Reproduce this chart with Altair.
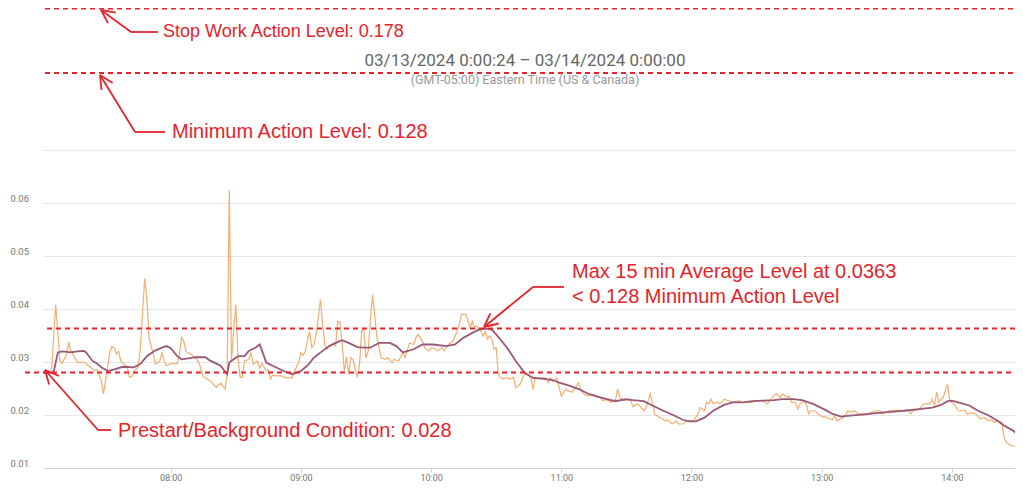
import math
import altair as alt
import pandas as pd

DAY = "2024-03-13"

# ---- raw readings (orange) ----
raw_time = [
    "07:01", "07:05", "07:07", "07:09", "07:10", "07:12", "07:13", "07:14", "07:17", "07:20",
    "07:23", "07:25", "07:26", "07:28", "07:29", "07:30", "07:32", "07:33", "07:34", "07:35",
    "07:36", "07:37", "07:38", "07:40", "07:41", "07:42", "07:44", "07:45", "07:46", "07:47",
    "07:48", "07:49", "07:50", "07:52", "07:53", "07:55", "07:56", "07:57", "07:58", "08:00",
    "08:03", "08:04", "08:05", "08:06", "08:07", "08:09", "08:10", "08:11", "08:13", "08:15",
    "08:18", "08:21", "08:23", "08:25", "08:26", "08:27", "08:28", "08:29", "08:30", "08:31",
    "08:32", "08:33", "08:34", "08:36", "08:37", "08:38", "08:40", "08:41", "08:42", "08:44",
    "08:45", "08:46", "08:47", "08:49", "08:51", "08:53", "08:56", "08:57", "08:59", "09:00",
    "09:01", "09:02", "09:03", "09:04", "09:05", "09:06", "09:07", "09:08", "09:09", "09:10",
    "09:11", "09:12", "09:13", "09:15", "09:16", "09:17", "09:18", "09:19", "09:20", "09:21",
    "09:22", "09:23", "09:24", "09:26", "09:27", "09:28", "09:29", "09:30", "09:31", "09:32",
    "09:33", "09:34", "09:35", "09:36", "09:37", "09:39", "09:40", "09:42", "09:43", "09:45",
    "09:47", "09:48", "09:49", "09:50", "09:52", "09:53", "09:54", "09:55", "09:56", "09:57",
    "09:59", "10:00", "10:02", "10:03", "10:05", "10:06", "10:08", "10:10", "10:12", "10:13",
    "10:14", "10:16", "10:18", "10:19", "10:20", "10:21", "10:23", "10:24", "10:25", "10:26",
    "10:27", "10:28", "10:29", "10:30", "10:31", "10:32", "10:33", "10:35", "10:36", "10:38",
    "10:39", "10:41", "10:43", "10:45", "10:46", "10:47", "10:48", "10:50", "10:53", "10:54",
    "10:55", "10:56", "10:58", "10:59", "11:00", "11:02", "11:03", "11:05", "11:07", "11:08",
    "11:09", "11:11", "11:13", "11:15", "11:18", "11:19", "11:21", "11:23", "11:25", "11:26",
    "11:27", "11:29", "11:30", "11:32", "11:33", "11:35", "11:36", "11:38", "11:39", "11:41",
    "11:42", "11:43", "11:45", "11:46", "11:48", "11:49", "11:51", "11:53", "11:54", "11:56",
    "11:58", "11:59", "12:01", "12:03", "12:04", "12:06", "12:07", "12:08", "12:09", "12:10",
    "12:12", "12:13", "12:15", "12:17", "12:19", "12:22", "12:23", "12:25", "12:28", "12:29",
    "12:32", "12:34", "12:35", "12:36", "12:38", "12:39", "12:41", "12:42", "12:44", "12:45",
    "12:46", "12:48", "12:49", "12:50", "12:52", "12:53", "12:54", "12:55", "12:57", "12:59",
    "13:01", "13:02", "13:05", "13:06", "13:07", "13:09", "13:11", "13:12", "13:14", "13:15",
    "13:17", "13:18", "13:21", "13:23", "13:25", "13:27", "13:28", "13:31", "13:34", "13:37",
    "13:40", "13:41", "13:42", "13:45", "13:47", "13:50", "13:51", "13:52", "13:53", "13:54",
    "13:55", "13:56", "13:57", "13:58", "13:59", "14:00", "14:01", "14:03", "14:05", "14:06",
    "14:07", "14:09", "14:11", "14:13", "14:15", "14:17", "14:18", "14:20", "14:21", "14:23",
    "14:24", "14:25", "14:27", "14:28", "14:30", "14:31", "14:33",
]
raw_value = [
    0.0280, 0.0280, 0.0408, 0.0302, 0.0297, 0.0315, 0.0338, 0.0321, 0.0299, 0.0300,
    0.0290, 0.0283, 0.0286, 0.0265, 0.0240, 0.0265, 0.0320, 0.0329, 0.0327, 0.0315,
    0.0320, 0.0302, 0.0298, 0.0290, 0.0271, 0.0273, 0.0287, 0.0290, 0.0327, 0.0390,
    0.0458, 0.0420, 0.0346, 0.0315, 0.0296, 0.0302, 0.0318, 0.0302, 0.0293, 0.0297,
    0.0297, 0.0315, 0.0346, 0.0340, 0.0320, 0.0315, 0.0312, 0.0310, 0.0299, 0.0272,
    0.0265, 0.0252, 0.0260, 0.0249, 0.0275, 0.0625, 0.0302, 0.0360, 0.0408, 0.0308,
    0.0271, 0.0271, 0.0302, 0.0305, 0.0318, 0.0296, 0.0302, 0.0288, 0.0298, 0.0283,
    0.0285, 0.0268, 0.0275, 0.0274, 0.0274, 0.0270, 0.0270, 0.0283, 0.0299, 0.0318,
    0.0312, 0.0320, 0.0340, 0.0358, 0.0327, 0.0333, 0.0352, 0.0383, 0.0418, 0.0371,
    0.0333, 0.0324, 0.0330, 0.0333, 0.0330, 0.0377, 0.0375, 0.0336, 0.0283, 0.0310,
    0.0277, 0.0308, 0.0305, 0.0271, 0.0295, 0.0358, 0.0361, 0.0308, 0.0320, 0.0377,
    0.0427, 0.0390, 0.0346, 0.0327, 0.0308, 0.0305, 0.0308, 0.0299, 0.0305, 0.0302,
    0.0318, 0.0308, 0.0321, 0.0336, 0.0333, 0.0346, 0.0352, 0.0346, 0.0339, 0.0327,
    0.0321, 0.0327, 0.0324, 0.0321, 0.0327, 0.0321, 0.0333, 0.0339, 0.0358, 0.0371,
    0.0390, 0.0390, 0.0365, 0.0377, 0.0365, 0.0368, 0.0358, 0.0349, 0.0358, 0.0343,
    0.0349, 0.0343, 0.0324, 0.0327, 0.0277, 0.0271, 0.0268, 0.0271, 0.0268, 0.0271,
    0.0252, 0.0258, 0.0277, 0.0275, 0.0270, 0.0249, 0.0271, 0.0270, 0.0270, 0.0261,
    0.0270, 0.0263, 0.0270, 0.0252, 0.0236, 0.0249, 0.0246, 0.0243, 0.0255, 0.0261,
    0.0246, 0.0238, 0.0236, 0.0239, 0.0233, 0.0227, 0.0229, 0.0224, 0.0229, 0.0249,
    0.0233, 0.0227, 0.0229, 0.0227, 0.0216, 0.0221, 0.0218, 0.0208, 0.0214, 0.0240,
    0.0221, 0.0202, 0.0196, 0.0194, 0.0189, 0.0191, 0.0183, 0.0189, 0.0183, 0.0183,
    0.0189, 0.0190, 0.0189, 0.0202, 0.0214, 0.0208, 0.0224, 0.0221, 0.0230, 0.0221,
    0.0224, 0.0221, 0.0230, 0.0227, 0.0224, 0.0227, 0.0224, 0.0224, 0.0224, 0.0227,
    0.0227, 0.0224, 0.0221, 0.0227, 0.0236, 0.0240, 0.0233, 0.0240, 0.0233, 0.0236,
    0.0224, 0.0224, 0.0211, 0.0221, 0.0227, 0.0219, 0.0202, 0.0208, 0.0208, 0.0199,
    0.0196, 0.0196, 0.0191, 0.0199, 0.0189, 0.0193, 0.0199, 0.0208, 0.0205, 0.0208,
    0.0202, 0.0202, 0.0202, 0.0205, 0.0208, 0.0208, 0.0202, 0.0208, 0.0209, 0.0209,
    0.0209, 0.0202, 0.0208, 0.0211, 0.0221, 0.0221, 0.0230, 0.0218, 0.0243, 0.0224,
    0.0230, 0.0233, 0.0246, 0.0258, 0.0227, 0.0224, 0.0221, 0.0208, 0.0208, 0.0209,
    0.0202, 0.0204, 0.0202, 0.0193, 0.0195, 0.0189, 0.0191, 0.0186, 0.0189, 0.0186,
    0.0158, 0.0149, 0.0143, 0.0141, 0.0141, 0.0152, 0.0158,
]

# ---- 15 minute average (purple) ----
avg_time = [
    "07:01", "07:06", "07:08", "07:10", "07:14", "07:17", "07:20", "07:21", "07:24", "07:26",
    "07:28", "07:31", "07:34", "07:38", "07:43", "07:46", "07:49", "07:53", "07:56", "07:58",
    "08:00", "08:03", "08:05", "08:12", "08:16", "08:18", "08:23", "08:26", "08:27", "08:31",
    "08:34", "08:36", "08:39", "08:41", "08:43", "08:44", "08:47", "08:52", "08:56", "09:00",
    "09:03", "09:06", "09:10", "09:13", "09:16", "09:19", "09:22", "09:26", "09:29", "09:32",
    "09:36", "09:41", "09:44", "09:47", "09:52", "09:56", "10:01", "10:07", "10:11", "10:15",
    "10:19", "10:22", "10:25", "10:28", "10:30", "10:35", "10:39", "10:43", "10:47", "10:52",
    "10:56", "10:59", "11:04", "11:08", "11:12", "11:16", "11:21", "11:25", "11:30", "11:33",
    "11:38", "11:42", "11:47", "11:52", "11:56", "11:59", "12:02", "12:06", "12:10", "12:15",
    "12:19", "12:24", "12:28", "12:33", "12:38", "12:42", "12:47", "12:51", "12:56", "13:01",
    "13:05", "13:09", "13:13", "13:20", "13:26", "13:32", "13:38", "13:45", "13:51", "13:55",
    "13:58", "14:00", "14:03", "14:08", "14:12", "14:17", "14:21", "14:24", "14:28", "14:31",
    "14:33",
]
avg_value = [
    0.0280, 0.0280, 0.0318, 0.0320, 0.0318, 0.0320, 0.0321, 0.0318, 0.0302, 0.0297,
    0.0290, 0.0283, 0.0286, 0.0291, 0.0290, 0.0296, 0.0311, 0.0322, 0.0327, 0.0330,
    0.0326, 0.0311, 0.0305, 0.0309, 0.0309, 0.0303, 0.0293, 0.0277, 0.0299, 0.0311,
    0.0311, 0.0321, 0.0327, 0.0333, 0.0311, 0.0299, 0.0293, 0.0283, 0.0277, 0.0283,
    0.0293, 0.0308, 0.0321, 0.0330, 0.0336, 0.0341, 0.0336, 0.0328, 0.0327, 0.0327,
    0.0336, 0.0336, 0.0330, 0.0318, 0.0324, 0.0333, 0.0333, 0.0330, 0.0333, 0.0346,
    0.0355, 0.0361, 0.0363, 0.0361, 0.0352, 0.0327, 0.0302, 0.0280, 0.0270, 0.0268,
    0.0266, 0.0261, 0.0255, 0.0249, 0.0241, 0.0235, 0.0230, 0.0226, 0.0230, 0.0228,
    0.0226, 0.0218, 0.0208, 0.0199, 0.0191, 0.0188, 0.0188, 0.0195, 0.0208, 0.0219,
    0.0224, 0.0224, 0.0226, 0.0227, 0.0228, 0.0230, 0.0230, 0.0228, 0.0221, 0.0211,
    0.0202, 0.0197, 0.0199, 0.0201, 0.0204, 0.0206, 0.0208, 0.0211, 0.0214, 0.0219,
    0.0226, 0.0227, 0.0224, 0.0218, 0.0208, 0.0199, 0.0189, 0.0180, 0.0171, 0.0161,
    0.0157,
]

y_ticks = [0.01, 0.02, 0.03, 0.04, 0.05, 0.06, 0.07]
x_tick_hours = [8, 9, 10, 11, 12, 13, 14]
prestart_level = 0.028
max_avg_level = 0.0363

title_text = "03/13/2024 0:00:24 \u2013 03/14/2024 0:00:00"
subtitle_text = "(GMT-05:00) Eastern Time (US & Canada)"
label_stop = "Stop Work Action Level: 0.178"
label_min = "Minimum Action Level: 0.128"
label_max1 = "Max 15 min Average Level at 0.0363"
label_max2 = "< 0.128 Minimum Action Level"
label_pre = "Prestart/Background Condition: 0.028"

RED = "#E5232B"
ORANGE = "#F2AE72"
PURPLE = "#9A5877"

raw_df = pd.DataFrame({"t": [f"{DAY}T{t}:00" for t in raw_time], "v": raw_value})
avg_df = pd.DataFrame({"t": [f"{DAY}T{t}:00" for t in avg_time], "v": avg_value})
one = pd.DataFrame({"d": [0]})

W, H = 972, 318
OX, OY = 43, 150  # plot origin on page


def dt(h, m=0, s=0):
    return alt.DateTime(year=2024, month=3, date=13, hours=h, minutes=m, seconds=s)


x_enc = alt.X(
    "t:T",
    scale=alt.Scale(domain=[dt(7, 1, 9), dt(14, 29, 5)]),
    axis=alt.Axis(format="%H:%M", values=[dt(h) for h in x_tick_hours], grid=False,
                  title=None, domainColor="#cfcfcf", tickColor="#cfcfcf", tickSize=4,
                  labelPadding=1, labelFontSize=9, labelColor="#777", labelFont="Roboto"),
)
y_enc = alt.Y(
    "v:Q",
    scale=alt.Scale(domain=[0.01, 0.07], nice=False, zero=False),
    axis=alt.Axis(values=y_ticks, title=None, ticks=False, domain=False, format=".2f",
                  labelExpr="datum.value > 0.065 ? '' : datum.label",
                  labelAlign="left", labelPadding=33, labelBaseline="bottom",
                  labelFontSize=9.5, labelColor="#777", labelFont="Roboto",
                  gridColor="#e6e6e6"),
)

raw_line = alt.Chart(raw_df).mark_line(color=ORANGE, strokeWidth=1.2, clip=True).encode(x=x_enc, y=y_enc)
avg_line = alt.Chart(avg_df).mark_line(color=PURPLE, strokeWidth=1.8, clip=True).encode(x=x_enc, y=y_enc)

layers = [raw_line, avg_line]


def seg(x1, y1, x2, y2, width=1.8, dash=None):
    kw = dict(color=RED, strokeWidth=width)
    if dash:
        kw["strokeDash"] = dash
    return alt.Chart(one).mark_rule(**kw).encode(
        x=alt.value(round(x1 - OX, 1)), y=alt.value(round(y1 - OY, 1)),
        x2=alt.value(round(x2 - OX, 1)), y2=alt.value(round(y2 - OY, 1)))


def arrow(tip, elbow, end):
    out = [seg(tip[0], tip[1], elbow[0], elbow[1]), seg(elbow[0], elbow[1], end[0], end[1])]
    dx, dy = elbow[0] - tip[0], elbow[1] - tip[1]
    n = math.hypot(dx, dy)
    ux, uy = dx / n, dy / n
    for a in (0.45, -0.45):
        rx = ux * math.cos(a) - uy * math.sin(a)
        ry = ux * math.sin(a) + uy * math.cos(a)
        out.append(seg(tip[0], tip[1], tip[0] + 15 * rx, tip[1] + 15 * ry))
    return out


def text(s, x, y, size=20, color=RED, font="Liberation Sans", align="left"):
    return alt.Chart(one).mark_text(text=s, align=align, baseline="middle", font=font,
                                    fontSize=size, color=color).encode(
        x=alt.value(x - OX), y=alt.value(y - OY))


# dashed threshold lines (on the chart's scale)
for lvl, x0 in ((max_avg_level, 47), (prestart_level, 25)):
    layers.append(alt.Chart(one).mark_rule(color=RED, strokeWidth=2, strokeDash=[5, 4]).encode(
        x=alt.value(x0 - OX), x2=alt.value(W), y=alt.datum(lvl)))

# action-level lines drawn above the plot (not to scale)
layers.append(seg(45, 8.5, OX + W, 8.5, width=2, dash=[5, 4]))
layers.append(seg(45, 73, OX + W, 73, width=2, dash=[5, 4]))

layers += arrow((101, 10), (131, 32), (158, 32))
layers += arrow((100, 75), (135, 132), (165, 132))
layers += arrow((484, 327), (533, 287), (564, 287))
layers += arrow((45, 370), (98, 430), (111, 430))

layers.append(text(label_stop, 163, 32, size=18))
layers.append(text(label_min, 172, 132))
layers.append(text(label_max1, 572, 272))
layers.append(text(label_max2, 572, 297))
layers.append(text(label_pre, 118, 431))
layers.append(text(title_text, 525, 61, size=17, color="#666", font="Roboto", align="center"))
layers.append(text(subtitle_text, 525, 80, size=12.5, color="#999", font="Roboto", align="center"))

chart = alt.layer(*layers).properties(
    width=W, height=H,
    padding={"left": 35, "top": 142, "right": 0, "bottom": 15},
    autosize=alt.AutoSizeParams(type="none"),
).configure_view(strokeWidth=0)

chart.save("out.html", embed_options={"renderer": "svg", "actions": False})
